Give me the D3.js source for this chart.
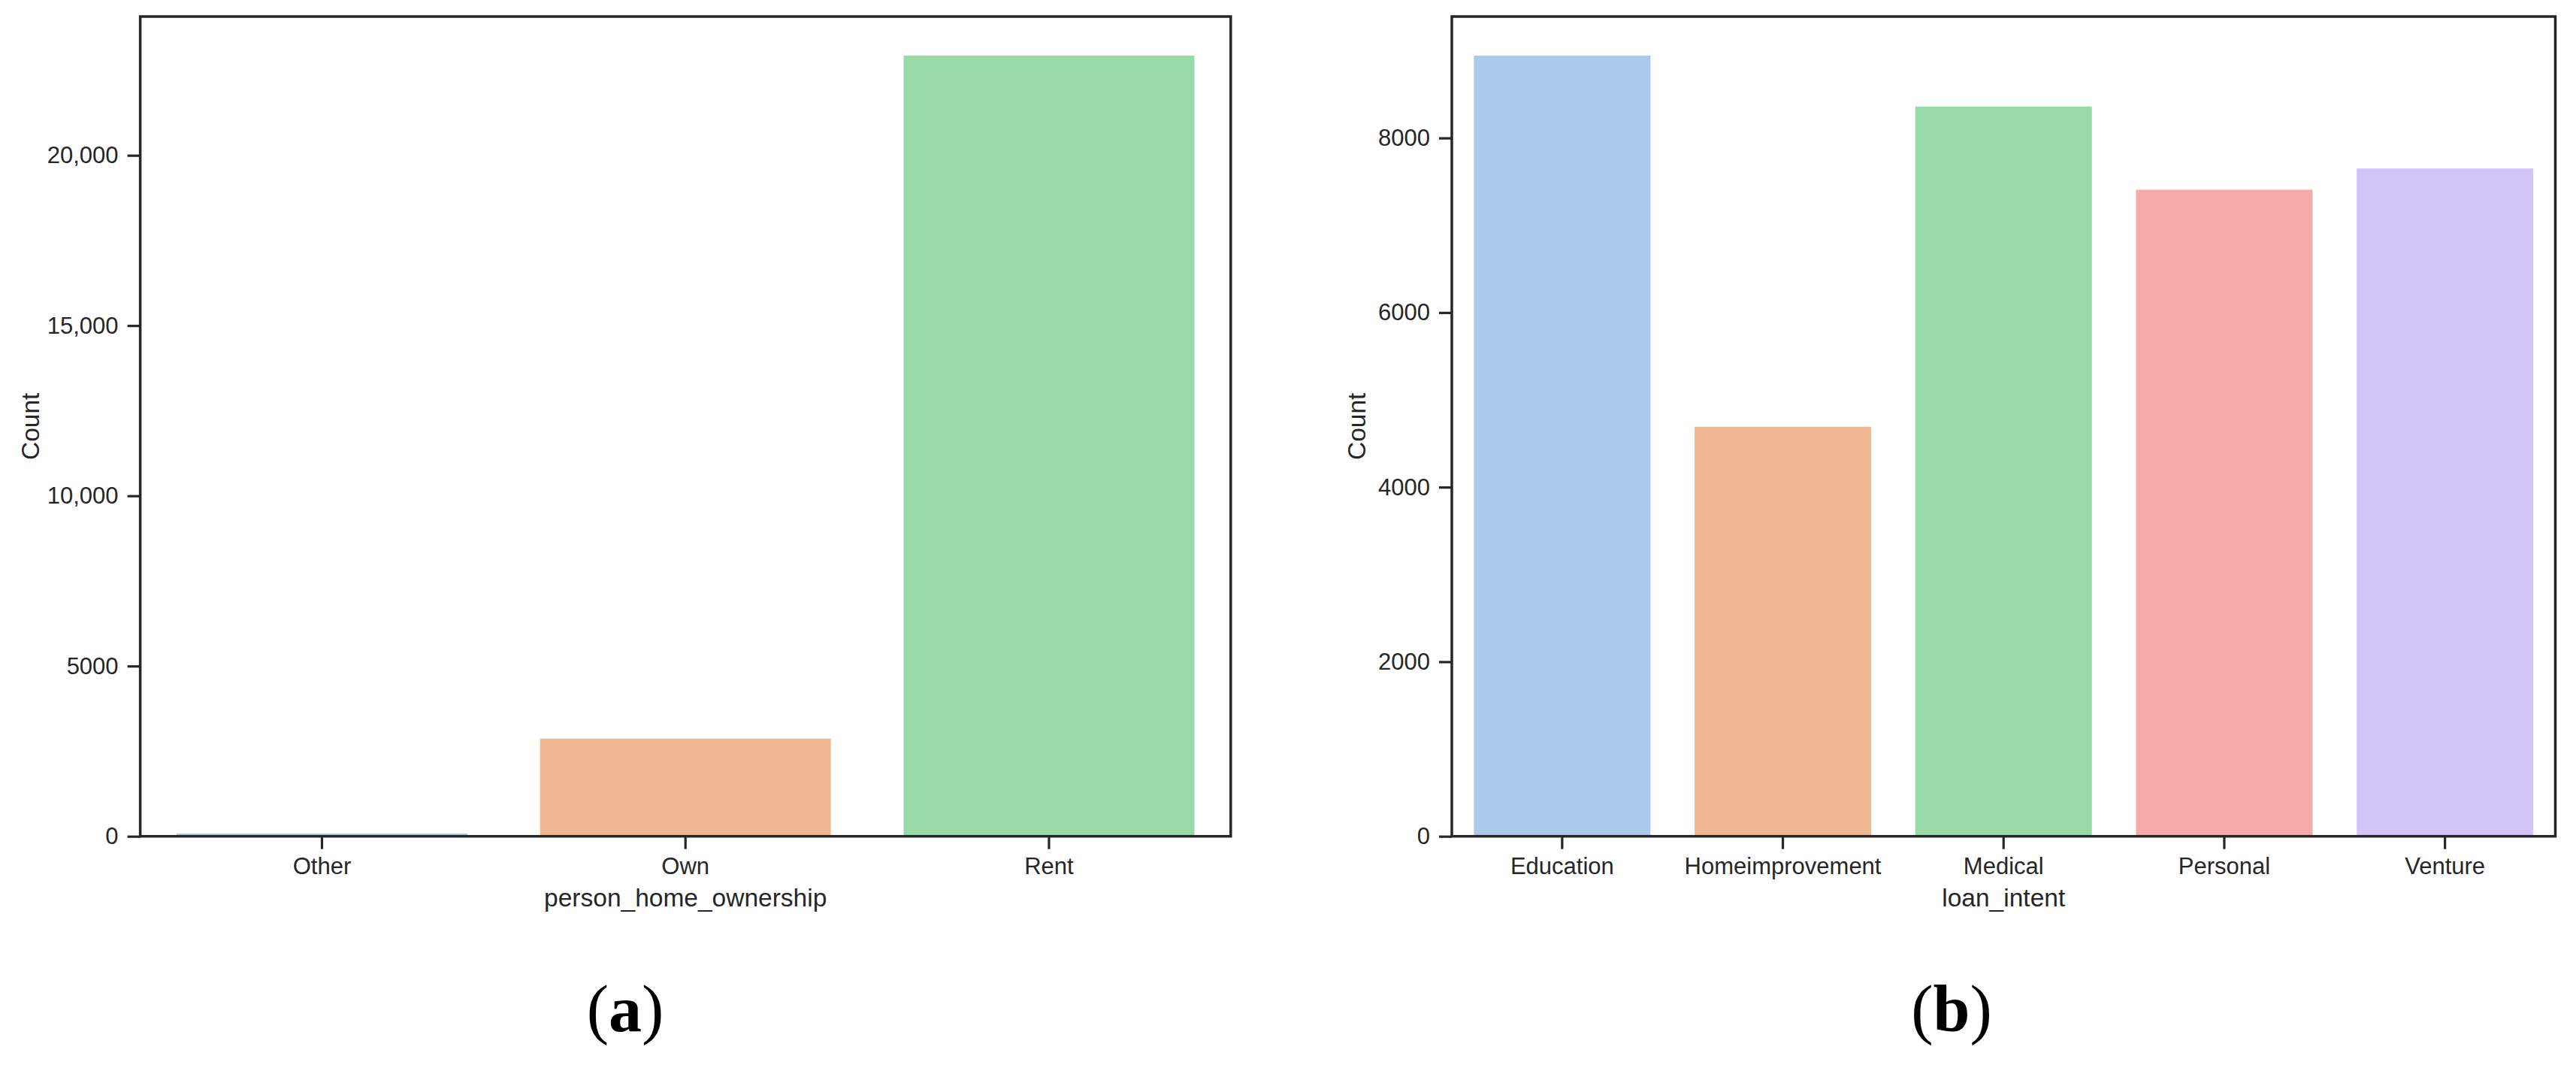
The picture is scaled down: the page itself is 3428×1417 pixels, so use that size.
<!DOCTYPE html>
<html>
<head>
<meta charset="utf-8">
<script src="https://cdn.jsdelivr.net/npm/d3@7"></script>
<style>
  body { margin: 0; background: #fff; }
  svg { display: block; }
</style>
</head>
<body>
<div id="content"></div>
<script>
// panel (a) data
homeCategories = ["Other", "Own", "Rent"]
homeCounts = [80, 2868, 22930]
homeTicks = [0, 5000, 10000, 15000, 20000]
homeTickLabels = ["0", "5000", "10,000", "15,000", "20,000"]

// panel (b) data
intentCategories = ["Education", "Homeimprovement", "Medical", "Personal", "Venture"]
intentCounts = [8944, 4691, 8360, 7407, 7651]
intentTicks = [0, 2000, 4000, 6000, 8000]
intentTickLabels = ["0", "2000", "4000", "6000", "8000"]

// seaborn pastel, desaturated as countplot does
barColors = ["#abc9ea", "#efb792", "#98daa7", "#f3aaa8", "#d3c4f7"]

svgwidth = 3428
svgheight = 1417
inkColor = "#262626"
tickFont = "31px"
labelFont = "33.5px"

var svg = d3.select("#content").append("svg")
  .attr("width", svgwidth)
  .attr("height", svgheight)

buildPanel = function(props) {
  var left = props.left, right = props.right
  var top = 22, bottom = 1112.7

  var x = d3.scaleBand()
    .domain(props.categories)
    .range([left, right])
    .paddingInner(0.2)
    .paddingOuter(0.1)

  // matplotlib style 5% head room
  var yScale = d3.scaleLinear()
    .domain([0, d3.max(props.values) * 1.05])
    .range([bottom, top])

  var g = svg.append("g")

  // bars
  g.selectAll(".dataBar")
    .data(props.values)
    .enter().append("rect")
    .attr("class", "dataBar")
    .attr("x", function(d, i) { return x(props.categories[i]) })
    .attr("y", function(d) { return yScale(d) })
    .attr("width", x.bandwidth())
    .attr("height", function(d) { return bottom - yScale(d) })
    .attr("fill", function(d, i) { return barColors[i] })

  // y axis
  var yAxis = g.append("g")
    .attr("transform", "translate(" + left + ",0)")
    .call(d3.axisLeft(yScale)
      .tickValues(props.ticks)
      .tickFormat(function(d, i) { return props.tickLabels[i] })
      .tickSize(17)
      .tickPadding(12))
  yAxis.select(".domain").remove()

  // x axis
  var xAxis = g.append("g")
    .attr("transform", "translate(0," + bottom + ")")
    .call(d3.axisBottom(x).tickSize(17).tickPadding(11))
  xAxis.select(".domain").remove()

  g.selectAll(".tick line")
    .attr("stroke", inkColor)
    .attr("stroke-width", 3.2)
  g.selectAll(".tick text")
    .attr("fill", inkColor)
    .style("font-family", "'Liberation Sans', Arial, sans-serif")
    .style("font-size", tickFont)

  // frame around the axes
  g.append("rect")
    .attr("x", left)
    .attr("y", top)
    .attr("width", right - left)
    .attr("height", bottom - top)
    .attr("fill", "none")
    .attr("stroke", inkColor)
    .attr("stroke-width", 3.5)

  // axis titles
  g.append("text")
    .attr("x", (left + right) / 2)
    .attr("y", bottom + 93)
    .attr("text-anchor", "middle")
    .attr("fill", inkColor)
    .style("font-family", "'Liberation Sans', Arial, sans-serif")
    .style("font-size", labelFont)
    .text(props.xTitle)

  g.append("text")
    .attr("transform", "translate(" + (left - props.yTitleOffset) + "," + ((top + bottom) / 2) + ") rotate(-90)")
    .attr("text-anchor", "middle")
    .attr("fill", inkColor)
    .style("font-family", "'Liberation Sans', Arial, sans-serif")
    .style("font-size", labelFont)
    .text("Count")

  // panel letter
  var letter = svg.append("text")
    .attr("x", props.letterX)
    .attr("y", 1372)
    .attr("text-anchor", "middle")
    .attr("fill", "#000")
    .style("font-family", "'Liberation Serif', 'Times New Roman', serif")
    .style("font-size", "88px")
  letter.append("tspan").text("(")
  letter.append("tspan").style("font-weight", "bold").text(props.letter)
  letter.append("tspan").text(")")
}

buildPanel({categories: homeCategories, values: homeCounts,
  ticks: homeTicks, tickLabels: homeTickLabels,
  left: 186.6, right: 1637.8, xTitle: "person_home_ownership",
  yTitleOffset: 135, letter: "a", letterX: 832})

buildPanel({categories: intentCategories, values: intentCounts,
  ticks: intentTicks, tickLabels: intentTickLabels,
  left: 1932, right: 3400.5, xTitle: "loan_intent",
  yTitleOffset: 115, letter: "b", letterX: 2597})
</script>
</body>
</html>
